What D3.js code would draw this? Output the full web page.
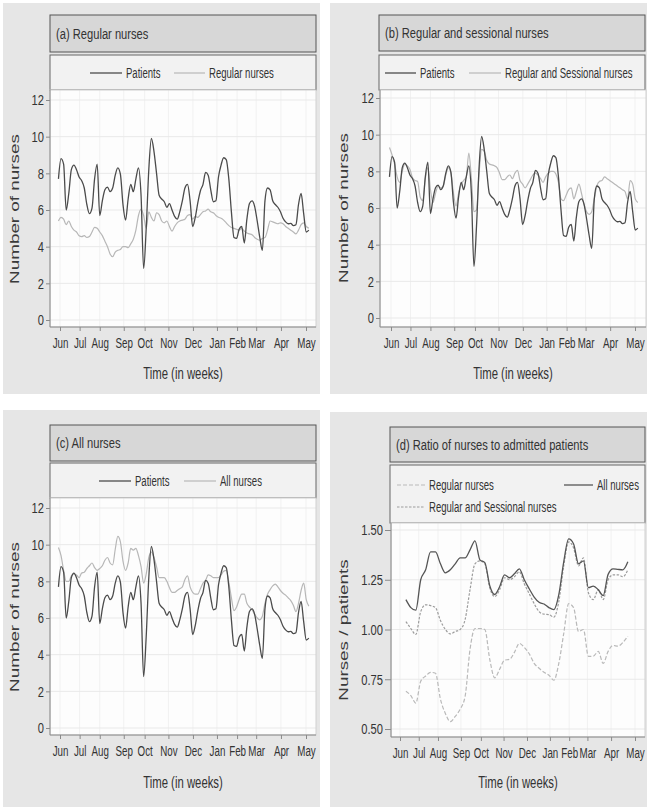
<!DOCTYPE html>
<html>
<head>
<meta charset="utf-8">
<script src="https://cdn.jsdelivr.net/npm/d3@7"></script>
<style>
  body { margin: 0; background: #fff; }
  svg { display: block; }
</style>
</head>
<body>
<script>
// weekly series, one value every half week (patients and nurses on duty)
let weeks = d3.range(98).map(i => i * 0.5)
let monthLabels = ['Jun', 'Jul', 'Aug', 'Sep', 'Oct', 'Nov', 'Dec', 'Jan', 'Feb', 'Mar', 'Apr', 'May']
let monthWeeks = [0.3, 4.1, 8.0, 12.65, 16.7, 21.3, 26.05, 30.7, 34.6, 38.3, 43.1, 47.95]

let patients = [
  7.7, 8.8, 8.5, 6.0, 6.9, 8.2, 8.45, 8.2, 7.8, 7.6,
  7.2, 6.3, 5.8, 6.1, 7.7, 8.5, 5.7, 6.5, 7.1, 7.25,
  7.0, 7.2, 7.9, 8.3, 7.95, 6.3, 5.45, 6.6, 7.4, 7.0,
  7.7, 8.3, 6.8, 2.8, 5.0, 8.2, 9.9, 9.2, 8.0, 6.8,
  6.6, 6.45, 6.15, 6.35, 6.0, 5.65, 5.5, 5.9, 6.5, 7.2,
  7.4, 6.5, 5.1, 5.6, 6.4, 7.05, 7.4, 8.05, 7.9, 7.1,
  6.45, 6.5, 7.8, 8.45, 8.85, 8.75, 7.7, 5.9, 4.5, 4.45,
  4.95, 5.1, 4.2, 5.5, 6.35, 6.5, 6.2, 5.4, 4.5, 3.8,
  6.5, 7.2, 7.1, 6.5, 6.3, 6.15, 5.9, 5.55, 5.35, 5.25,
  5.27, 5.15, 5.2, 6.3, 6.9, 5.8, 4.8, 4.9
]
let regularNurses = [
  5.4, 5.6, 5.5, 5.2, 5.4, 5.1, 4.9, 4.8, 4.6, 4.55,
  4.6, 4.5, 4.55, 4.8, 5.05, 5.0, 4.8, 4.6, 4.3, 4.0,
  3.6, 3.45, 3.7, 3.8, 3.85, 4.0, 4.0, 3.95, 4.15, 4.4,
  4.9, 5.7, 6.05, 5.7, 5.0, 5.9, 5.6, 5.4, 5.85, 5.75,
  5.4, 5.3, 5.4, 5.1, 4.85, 5.1, 5.3, 5.4, 5.45, 5.5,
  5.7, 5.75, 5.5, 5.65, 5.6, 5.75, 5.9, 5.95, 6.05, 5.9,
  5.85, 5.7, 5.6, 5.55, 5.45, 5.3, 5.15, 5.05, 5.0, 4.95,
  4.9, 5.0, 4.85, 4.75, 4.7, 4.65, 4.5, 4.4, 4.35, 4.45,
  4.5, 4.9, 5.4, 5.35, 5.3, 5.25, 5.3, 5.25, 5.1, 5.0,
  4.9, 4.8, 4.7, 4.9, 5.2, 5.3, 5.1, 5.0
]
let regSessNurses = [
  9.3, 8.9, 8.4, 7.7, 7.4, 8.0, 8.4, 8.3, 8.1, 7.65,
  7.5, 7.45, 6.6, 6.4, 7.6, 8.2, 7.0, 6.3, 6.8, 7.2,
  7.1, 7.2, 7.8, 8.2, 7.9, 6.8, 6.1, 6.8, 7.3, 7.5,
  7.7, 9.0, 7.6, 5.8, 5.9, 7.9, 9.2, 9.1, 8.6, 8.4,
  8.35, 8.3, 8.2, 7.9, 7.55, 7.55, 7.7, 7.8, 7.6, 7.9,
  8.05, 7.5, 7.3, 7.1, 7.3, 7.55, 7.8, 7.9, 7.8, 7.6,
  7.4, 7.7, 7.9, 8.0, 8.0, 7.85, 7.4, 6.5, 6.4, 6.7,
  7.0, 7.1, 6.5, 6.9, 7.3, 6.8, 6.2, 5.8, 5.65, 5.8,
  6.5, 7.2, 7.45, 7.5, 7.7, 7.6, 7.5, 7.4, 7.3, 7.2,
  7.1, 7.0, 6.9, 6.5, 7.5, 7.3, 6.5, 6.3
]
let allNurses = [
  9.85, 9.4, 8.6, 8.0, 8.0, 8.3, 8.4, 8.35, 8.2, 8.45,
  8.5, 8.7, 8.85, 9.0, 8.75, 8.6, 8.7, 8.85, 9.15, 9.3,
  9.0, 8.9, 9.75, 10.45, 10.15, 9.1, 8.6, 9.0, 9.8, 9.7,
  9.8, 9.4, 8.8, 7.9, 8.4, 9.3, 9.6, 9.3, 8.8, 8.2,
  8.2, 8.2, 8.0, 7.65, 7.4, 7.4, 7.5, 7.6, 7.7, 8.1,
  8.3, 7.7, 7.4, 7.3, 7.3, 7.6, 7.9, 8.05, 8.35, 8.3,
  8.2, 8.2, 8.2, 8.35, 8.55, 8.6, 7.95, 7.1, 6.4, 6.6,
  7.0, 7.3, 7.3, 6.8, 6.6, 6.45, 6.2, 6.0, 5.9, 6.1,
  6.8, 7.3, 7.55, 7.75, 7.85, 7.7, 7.5, 7.35, 7.25, 7.1,
  6.95, 6.7, 6.35, 6.8, 7.5, 7.9, 7.0, 6.65
]

// ratio of nurses to admitted patients, one value per week
let ratioWeeks = d3.range(46).map(i => 1.5 + i)
let ratioRegular = [
  0.69, 0.668, 0.63, 0.74, 0.766, 0.785, 0.78, 0.65, 0.578, 0.537,
  0.563, 0.60, 0.664, 0.90, 1.005, 1.005, 1.0, 0.85, 0.757, 0.80,
  0.846, 0.85, 0.885, 0.93, 0.91, 0.878, 0.83, 0.805, 0.785, 0.77,
  0.745, 0.83, 0.98, 1.13, 1.11, 0.99, 1.0, 0.865, 0.866, 0.89,
  0.83, 0.89, 0.92, 0.916, 0.935, 0.966
]
let ratioRegSess = [
  1.04, 1.005, 0.975, 1.09, 1.124, 1.12, 1.11, 1.045, 1.0, 0.978,
  0.99, 1.0, 1.05, 1.20, 1.33, 1.345, 1.33, 1.21, 1.165, 1.20,
  1.26, 1.25, 1.265, 1.29, 1.23, 1.18, 1.13, 1.09, 1.077, 1.075,
  1.062, 1.14, 1.32, 1.44, 1.41, 1.32, 1.36, 1.185, 1.15, 1.20,
  1.15, 1.25, 1.275, 1.275, 1.265, 1.30
]
let ratioAll = [
  1.15, 1.11, 1.097, 1.25, 1.30, 1.39, 1.39, 1.33, 1.285, 1.30,
  1.33, 1.36, 1.36, 1.40, 1.445, 1.35, 1.336, 1.22, 1.176, 1.215,
  1.274, 1.26, 1.28, 1.305, 1.25, 1.205, 1.163, 1.137, 1.128, 1.11,
  1.10, 1.175, 1.34, 1.455, 1.43, 1.33, 1.345, 1.21, 1.218, 1.20,
  1.17, 1.277, 1.305, 1.302, 1.30, 1.34
]

let countTicks = [0, 2, 4, 6, 8, 10, 12]
let ratioTicks = [0.5, 0.75, 1.0, 1.25, 1.5]

let W = 647
let H = 809
let FONT = '"Liberation Sans", Arial, sans-serif'
// the scan uses a condensed face, so glyphs get squeezed horizontally
let K_TITLE = 0.72
let K_LEGEND = 0.66
let K_XTICK = 0.63
let K_YTICK = 0.72
let svg = d3.select('body').append('svg').attr('width', W).attr('height', H)

let darkLine = { stroke: '#4b4b4b', width: 1.3, dash: null }
let lightLine = { stroke: '#b7b7b7', width: 1.2, dash: null }

// condensed text: scale the glyphs horizontally around the anchor point
function ctext (parent, x, y, str, size, anchor, k) {
  return parent.append('g')
    .attr('transform', 'translate(' + x + ',' + y + ') scale(' + k + ',1)')
    .append('text')
    .attr('text-anchor', anchor)
    .style('font-family', FONT)
    .style('font-size', size + 'px')
    .attr('fill', '#333')
    .text(str)
}

function drawPanel (p, idx) {
  let g = svg.append('g')
  g.append('rect').attr('x', p.bg[0]).attr('y', p.bg[1]).attr('width', p.bg[2]).attr('height', p.bg[3])
    .attr('fill', '#e6e6e6')

  // title bar
  g.append('rect').attr('x', p.title[0]).attr('y', p.title[1]).attr('width', p.title[2]).attr('height', p.title[3])
    .attr('fill', '#d7d7d7').attr('stroke', '#555').attr('stroke-width', 1)
  ctext(g, p.title[0] + 6, p.title[1] + p.title[3] / 2 + 5, p.titleText, 15.5, 'start', K_TITLE)

  // legend box
  g.append('rect').attr('x', p.legend[0]).attr('y', p.legend[1]).attr('width', p.legend[2]).attr('height', p.legend[3])
    .attr('fill', '#f2f2f2').attr('stroke', '#666').attr('stroke-width', 1)
  p.legendItems.forEach(function (it) {
    g.append('line').attr('x1', it.x1).attr('x2', it.x2).attr('y1', it.y).attr('y2', it.y)
      .attr('stroke', it.style.stroke).attr('stroke-width', it.style.width)
      .attr('stroke-dasharray', it.style.dash)
    ctext(g, it.x2 + 4, it.y + 5, it.label, 14.5, 'start', K_LEGEND)
  })

  // plot region
  let px0 = p.plot[0]
  let py0 = p.plot[1]
  let px1 = p.plot[0] + p.plot[2]
  let py1 = p.plot[1] + p.plot[3]
  g.append('rect').attr('x', px0).attr('y', py0).attr('width', p.plot[2]).attr('height', p.plot[3])
    .attr('fill', '#fdfdfd')

  let x = d3.scaleLinear().domain([monthWeeks[0], monthWeeks[monthWeeks.length - 1]]).range([p.xJun, p.xMay])
  let y = d3.scaleLinear().domain([p.yTicks[0], p.yTicks[p.yTicks.length - 1]]).range(p.yRange)

  // faint grid
  g.append('g').selectAll('line').data(monthWeeks).enter().append('line')
    .attr('x1', d => x(d)).attr('x2', d => x(d)).attr('y1', py0).attr('y2', py1)
    .attr('stroke', '#f1f1f1').attr('stroke-width', 1)
  g.append('g').selectAll('line').data(p.yTicks).enter().append('line')
    .attr('x1', px0).attr('x2', px1).attr('y1', d => y(d)).attr('y2', d => y(d))
    .attr('stroke', '#e9e9e9').attr('stroke-width', 1)

  // series
  let clipId = 'clip' + idx
  g.append('clipPath').attr('id', clipId).append('rect')
    .attr('x', px0).attr('y', py0).attr('width', p.plot[2]).attr('height', p.plot[3])
  let gLines = g.append('g').attr('clip-path', 'url(#' + clipId + ')')
  p.series.forEach(function (s) {
    let line = d3.line()
      .x((d, i) => x(s.xs[i]))
      .y(d => y(d))
      .curve(d3.curveMonotoneX)
    gLines.append('path')
      .datum(s.values)
      .attr('d', line)
      .attr('fill', 'none')
      .attr('stroke', s.style.stroke)
      .attr('stroke-width', s.style.width)
      .attr('stroke-dasharray', s.style.dash)
      .attr('stroke-linejoin', 'round')
  })

  // plot frame: light on top and right, axes darker
  g.append('rect').attr('x', px0).attr('y', py0).attr('width', p.plot[2]).attr('height', p.plot[3])
    .attr('fill', 'none').attr('stroke', '#d0d0d0').attr('stroke-width', 1)
  g.append('line').attr('x1', px0).attr('x2', px0).attr('y1', py0).attr('y2', py1)
    .attr('stroke', '#8a8a8a').attr('stroke-width', 1)
  g.append('line').attr('x1', px0).attr('x2', px1).attr('y1', py1).attr('y2', py1)
    .attr('stroke', '#8a8a8a').attr('stroke-width', 1)

  // y axis
  let yAxis = g.append('g')
    .attr('transform', 'translate(' + px0 + ',0)')
    .call(d3.axisLeft(y).tickValues(p.yTicks).tickSize(p.tickY).tickPadding(2).tickFormat(p.fmt))
  yAxis.select('.domain').remove()
  yAxis.selectAll('line').attr('stroke', '#8a8a8a')
  yAxis.selectAll('text')
    .style('font-family', FONT).style('font-size', '15.5px').attr('fill', '#333')
    .attr('x', -(p.tickY + 2) / K_YTICK)
    .attr('transform', 'scale(' + K_YTICK + ',1)')

  // x axis
  let xAxis = g.append('g')
    .attr('transform', 'translate(0,' + py1 + ')')
    .call(d3.axisBottom(x).tickValues(monthWeeks).tickSize(4).tickPadding(6)
      .tickFormat((d, i) => monthLabels[i]))
  xAxis.select('.domain').remove()
  xAxis.selectAll('line').attr('stroke', '#8a8a8a')
  xAxis.selectAll('text')
    .style('font-family', FONT).style('font-size', '15.5px').attr('fill', '#333')
    .attr('transform', 'scale(' + K_XTICK + ',1)')

  // axis titles
  ctext(g, (px0 + px1) / 2, p.xTitleY, 'Time (in weeks)', 16, 'middle', 0.71)
  g.append('g')
    .attr('transform', 'translate(' + p.yTitleX + ',' + p.yTitleY + ') rotate(-90) scale(1.45,1)')
    .append('text')
    .attr('text-anchor', 'middle')
    .attr('dy', '0.35em')
    .style('font-family', FONT)
    .style('font-size', '13px')
    .attr('fill', '#3a3a3a')
    .text(p.yTitle)
}

let panels = [
  {
    bg: [3, 3, 317, 391], title: [50, 15, 266, 37], titleText: '(a) Regular nurses',
    legend: [50, 55, 266, 35], plot: [50, 90, 266, 237],
    yTicks: countTicks, yRange: [320, 100], fmt: d3.format('d'), tickY: 4,
    xJun: 60, xMay: 306, xTitleY: 379, yTitle: 'Number of nurses', yTitleX: 14, yTitleY: 209,
    legendItems: [
      { x1: 90, x2: 122, y: 73, label: 'Patients', style: darkLine },
      { x1: 174, x2: 205, y: 73, label: 'Regular nurses', style: lightLine }
    ],
    series: [
      { xs: weeks, values: regularNurses, style: lightLine },
      { xs: weeks, values: patients, style: darkLine }
    ]
  },
  {
    bg: [330, 3, 317, 391], title: [379, 15, 266, 36], titleText: '(b) Regular and sessional nurses',
    legend: [379, 55, 266, 35], plot: [380, 90, 266, 237],
    yTicks: countTicks, yRange: [318, 98], fmt: d3.format('d'), tickY: 4,
    xJun: 391, xMay: 635, xTitleY: 379, yTitle: 'Number of nurses', yTitleX: 343, yTitleY: 208,
    legendItems: [
      { x1: 385, x2: 416, y: 73, label: 'Patients', style: darkLine },
      { x1: 469, x2: 501, y: 73, label: 'Regular and Sessional nurses', style: lightLine }
    ],
    series: [
      { xs: weeks, values: regSessNurses, style: lightLine },
      { xs: weeks, values: patients, style: darkLine }
    ]
  },
  {
    bg: [3, 410, 317, 397], title: [50, 425, 266, 36], titleText: '(c) All nurses',
    legend: [50, 463, 266, 35], plot: [50, 498, 266, 237],
    yTicks: countTicks, yRange: [728, 508], fmt: d3.format('d'), tickY: 4,
    xJun: 60, xMay: 306, xTitleY: 788, yTitle: 'Number of nurses', yTitleX: 14, yTitleY: 617,
    legendItems: [
      { x1: 99, x2: 131, y: 481, label: 'Patients', style: darkLine },
      { x1: 184, x2: 216, y: 481, label: 'All nurses', style: lightLine }
    ],
    series: [
      { xs: weeks, values: allNurses, style: lightLine },
      { xs: weeks, values: patients, style: darkLine }
    ]
  },
  {
    bg: [330, 412, 317, 395], title: [390, 427, 255, 35], titleText: '(d) Ratio of nurses to admitted patients',
    legend: [390, 465, 255, 58], plot: [391, 523, 254, 214],
    yTicks: ratioTicks, yRange: [729, 530], fmt: d3.format('.2f'), tickY: 6,
    xJun: 400, xMay: 635, xTitleY: 788, yTitle: 'Nurses / patients', yTitleX: 343, yTitleY: 630,
    legendItems: [
      { x1: 397, x2: 425, y: 485, label: 'Regular nurses', style: { stroke: '#b9b9b9', width: 1.2, dash: '4,2' } },
      { x1: 564, x2: 593, y: 485, label: 'All nurses', style: { stroke: '#555', width: 1.3, dash: null } },
      { x1: 397, x2: 425, y: 507, label: 'Regular and Sessional nurses', style: { stroke: '#9c9c9c', width: 1.2, dash: '2.5,1.5' } }
    ],
    series: [
      { xs: ratioWeeks, values: ratioRegular, style: { stroke: '#b9b9b9', width: 1.2, dash: '4,2' } },
      { xs: ratioWeeks, values: ratioRegSess, style: { stroke: '#9c9c9c', width: 1.2, dash: '2.5,1.5' } },
      { xs: ratioWeeks, values: ratioAll, style: { stroke: '#555', width: 1.3, dash: null } }
    ]
  }
]

panels.forEach(drawPanel)
</script>
</body>
</html>
